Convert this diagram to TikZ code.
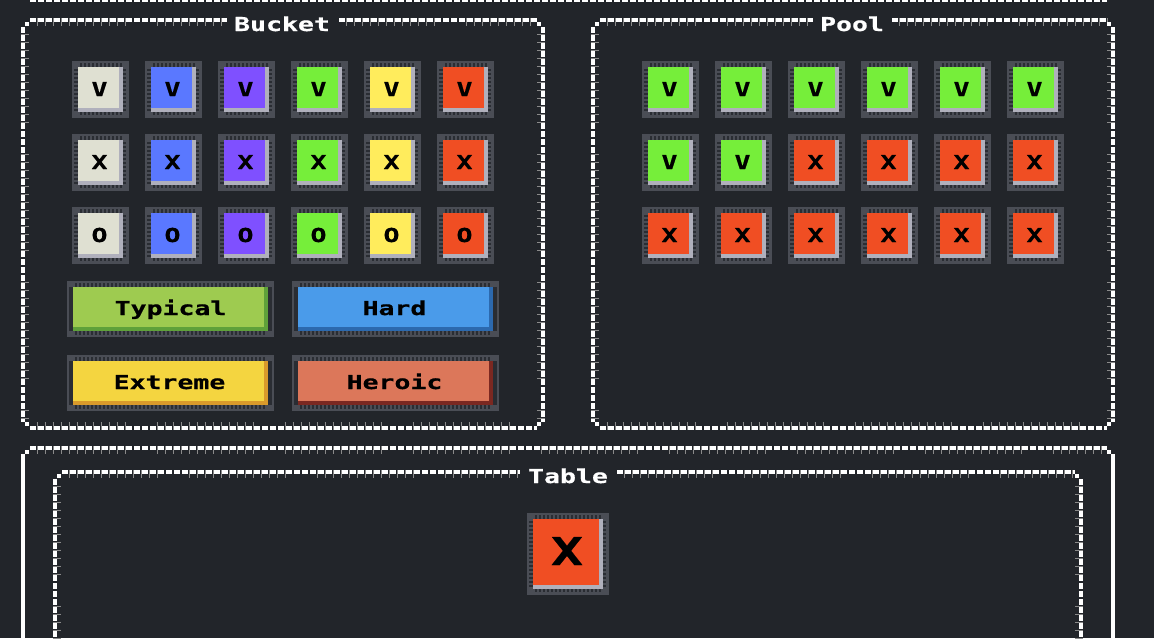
\documentclass[tikz,border=0pt]{standalone}
\usepackage{fontspec}
\newfontfamily\pix[FakeStretch=1.38,BoldFeatures={FakeBold=0.6}]{DejaVu Sans Mono}
\definecolor{bgc}{HTML}{22252A}
\definecolor{framec}{HTML}{4A4D55}
\definecolor{toothc}{HTML}{2A2D33}
\definecolor{shadec}{HTML}{B0B0BC}
\definecolor{tickc}{HTML}{8A8A8A}
\definecolor{cream}{HTML}{DFE0D2}
\definecolor{cblue}{HTML}{5A78FF}
\definecolor{cpurple}{HTML}{7F50FF}
\definecolor{cgreen}{HTML}{76EE3A}
\definecolor{cyellow}{HTML}{FFEC5C}
\definecolor{cred}{HTML}{F04E23}
\definecolor{tgreen}{HTML}{9ECB50}
\definecolor{tgreens}{HTML}{5FA13A}
\definecolor{hblue}{HTML}{4A9BEA}
\definecolor{hblues}{HTML}{2C69AE}
\definecolor{eyellow}{HTML}{F4D540}
\definecolor{eyellows}{HTML}{D99A2B}
\definecolor{rred}{HTML}{DC775A}
\definecolor{rreds}{HTML}{7B2821}
\tikzset{
  dashrow/.style={draw=white,line width=4pt,dash pattern=on 6pt off 2pt},
  solidrow/.style={draw=white,line width=4pt},
  tickrow/.style={draw=tickc,line width=8pt,dash pattern=on 1pt off 7pt on 1pt off 7pt on 1pt off 7pt on 1pt off 7pt on 1pt off 7pt on 1pt off 7pt on 1pt off 7pt on 1pt off 7pt on 1pt off 7pt on 1pt off 7pt on 1pt off 7pt on 1pt off 7pt on 1pt off 31pt,dash phase=1.5pt},
  teeth/.style={draw=toothc,line width=4pt,dash pattern=on 2pt off 2pt},
  pixel/.style={fill=white,draw=none},
  letter/.style={text=black,anchor=base,inner sep=0pt,font=\pix\bfseries\fontsize{19.2pt}{20pt}\selectfont},
  bigletter/.style={text=black,anchor=base,inner sep=0pt,font=\pix\bfseries\fontsize{38.4pt}{40pt}\selectfont},
  title/.style={text=white,anchor=base,inner sep=0pt,font=\pix\bfseries\fontsize{19.2pt}{20pt}\selectfont},
}
% name, x, y, size, face colour, letter, letter style, letter baseline offset
\newcommand{\cellbox}[8]{%
  \begin{scope}[shift={(#2,#3)}]
    \pgfmathsetmacro\Sz{#4}
    \pgfmathsetmacro\Fe{\Sz-10}
    \pgfmathsetmacro\Sh{\Sz-6}
    \pgfmathsetmacro\Tm{\Sz-4}
    \pgfmathsetmacro\Te{\Sz-7}
    \pgfmathsetmacro\Cx{(\Sz-2)/2}
    \fill[framec] (0,0) rectangle (\Sz,\Sz);
    \draw[teeth] (8,4) -- (\Te,4);
    \draw[teeth] (8,\Tm-1) -- (\Te,\Tm-1);
    \draw[teeth] (4,8) -- (4,\Te);
    \draw[teeth] (\Tm-1,8) -- (\Tm-1,\Te);
    \fill[shadec] (6,6) rectangle (\Sh,\Sh);
    \fill[#5] (6,6) rectangle (\Fe,\Fe);
    \node[#7] (#1) at (\Cx,#8) {#6};
  \end{scope}}
% name, x, y, face, shade, text, text centre x offset
\newcommand{\btnbox}[7]{%
  \begin{scope}[shift={(#2,#3)}]
    \fill[framec] (0,0) rectangle (207,56);
    \fill[toothc] (2,6) rectangle (205,50);
    \draw[teeth] (8,4) -- (199,4);
    \draw[teeth] (8,52) -- (199,52);
    \fill[#5] (6,6) rectangle (201,50);
    \fill[#4] (6,6) rectangle (197,46);
    \node[letter] (#1) at (#7,34) {#6};
  \end{scope}}
\begin{document}
\begin{tikzpicture}[x=1pt,y=-1pt]
\fill[bgc] (0,0) rectangle (1154,638);
\clip (0,0) rectangle (1154,638);
\useasboundingbox (0,0) rectangle (1154,638);

% clipped bottom edge of the frame above
\draw[dashrow,line width=2pt] (30,1) -- (1107,1);

% Bucket frame
\draw[tickrow] (30,22) -- (227,22);
\draw[tickrow] (339,22) -- (537,22);
\draw[tickrow] (30,426) -- (537,426);
\draw[tickrow] (25,27) -- (25,422);
\draw[tickrow] (541,27) -- (541,422);
\draw[dashrow] (30,20) -- (227,20);
\draw[dashrow] (339,20) -- (537,20);
\draw[dashrow] (30,428) -- (537,428);
\draw[dashrow] (23,27) -- (23,422);
\draw[dashrow] (543,27) -- (543,422);
\foreach \px/\py in {25/22,537/22,25/422,537/422}
  \fill[pixel] (\px,\py) rectangle (\px+4,\py+4);

% Pool frame
\draw[tickrow] (600,22) -- (813,22);
\draw[tickrow] (892,22) -- (1107,22);
\draw[tickrow] (600,426) -- (1107,426);
\draw[tickrow] (595,27) -- (595,422);
\draw[tickrow] (1111,27) -- (1111,422);
\draw[dashrow] (600,20) -- (813,20);
\draw[dashrow] (892,20) -- (1107,20);
\draw[dashrow] (600,428) -- (1107,428);
\draw[dashrow] (593,27) -- (593,422);
\draw[dashrow] (1113,27) -- (1113,422);
\foreach \px/\py in {595/22,1107/22,595/422,1107/422}
  \fill[pixel] (\px,\py) rectangle (\px+4,\py+4);

% Outer table frame
\draw[tickrow] (30,450) -- (1107,450);
\draw[dashrow] (30,448) -- (1107,448);
\draw[solidrow] (23,454) -- (23,638);
\draw[solidrow] (1113,454) -- (1113,638);
\foreach \px/\py in {25/450,1107/450}
  \fill[pixel] (\px,\py) rectangle (\px+4,\py+4);

% Inner table frame
\draw[tickrow] (62,474) -- (520,474);
\draw[tickrow] (617,474) -- (1075,474);
\draw[tickrow] (57,479) -- (57,638);
\draw[tickrow] (1079,479) -- (1079,638);
\draw[dashrow] (62,472) -- (520,472);
\draw[dashrow] (617,472) -- (1075,472);
\draw[dashrow] (55,479) -- (55,638);
\draw[dashrow] (1081,479) -- (1081,638);
\foreach \px/\py in {57/474,1075/474}
  \fill[pixel] (\px,\py) rectangle (\px+4,\py+4);

% Titles
\node[title] (tbucket) at (282,31) {Bucket};
\node[title] (tpool) at (852,31) {Pool};
\node[title] (ttable) at (568,483) {Table};

% Bucket cells
\foreach \lt/\ly/\rw in {V/61/1,X/134/2,O/207/3}
  \foreach \cn/\cx/\fc in {1/72/cream,2/145/cblue,3/218/cpurple,4/291/cgreen,5/364/cyellow,6/437/cred}
    {\cellbox{b\rw\cn}{\cx}{\ly}{57}{\fc}{\lt}{letter}{35}}

% Pool cells
\foreach \cn/\cx/\fc/\lt in {1/642/cgreen/V,2/715/cgreen/V,3/788/cgreen/V,4/861/cgreen/V,5/934/cgreen/V,6/1007/cgreen/V}
  {\cellbox{pa\cn}{\cx}{61}{57}{\fc}{\lt}{letter}{35}}
\foreach \cn/\cx/\fc/\lt in {1/642/cgreen/V,2/715/cgreen/V,3/788/cred/X,4/861/cred/X,5/934/cred/X,6/1007/cred/X}
  {\cellbox{pb\cn}{\cx}{134}{57}{\fc}{\lt}{letter}{35}}
\foreach \cn/\cx in {1/642,2/715,3/788,4/861,5/934,6/1007}
  {\cellbox{pc\cn}{\cx}{207}{57}{cred}{X}{letter}{35}}

% Buttons
\btnbox{typical}{67}{281}{tgreen}{tgreens}{Typical}{103.5}
\btnbox{hard}{292}{281}{hblue}{hblues}{Hard}{102.5}
\btnbox{extreme}{67}{355}{eyellow}{eyellows}{Extreme}{102.5}
\btnbox{heroic}{292}{355}{rred}{rreds}{Heroic}{102.5}

% Table cell
\cellbox{tablecell}{527}{513}{82}{cred}{X}{bigletter}{52}
\end{tikzpicture}
\end{document}
